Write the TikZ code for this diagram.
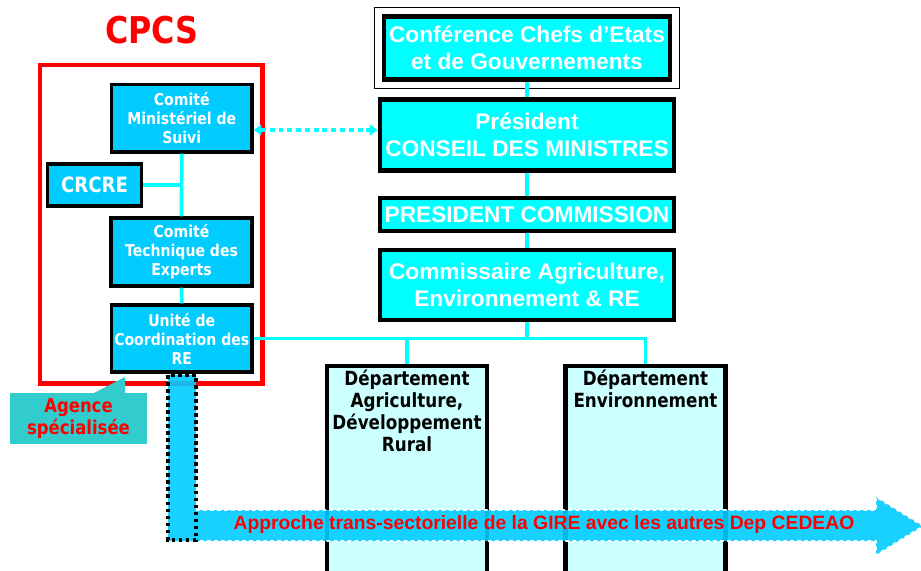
\documentclass[tikz,border=0pt]{standalone}
\usepackage{fontspec}
\setmainfont{Liberation Sans}
\newfontfamily\tahfont[FakeStretch=0.86]{DejaVu Sans}
\usetikzlibrary{positioning,arrows.meta,calc}
\definecolor{bleuciel}{HTML}{00CCFF}
\definecolor{cyanvif}{HTML}{00FFFF}
\definecolor{cyanpale}{HTML}{CCFFFF}
\definecolor{turquoise}{HTML}{33CCCC}
\tikzset{
  boiteg/.style={draw=black, line width=1.8pt, fill=bleuciel, text=white, align=center, inner sep=0pt,
    font=\tahfont\bfseries\fontsize{9.3}{10.8}\selectfont},
  boited/.style={draw=black, line width=2.3pt, fill=cyanvif, text=white, align=center, inner sep=0pt,
    minimum width=5.9cm, font=\bfseries\fontsize{12.9}{15.3}\selectfont},
  deptbox/.style={draw=black, line width=2.3pt, fill=cyanpale, minimum width=3.2cm, minimum height=5cm, anchor=north},
  depttext/.style={align=center, inner sep=0pt, font=\tahfont\bfseries\fontsize{11.1}{12.6}\selectfont},
  lien/.style={cyanvif, line width=2.1pt},
}
\begin{document}
\begin{tikzpicture}[x=0.02cm,y=-0.02cm]
\clip (0,0) rectangle (921,571);
\fill[white] (0,0) rectangle (921,571);

% CPCS
\node (cpcs) [text=red, font=\tahfont\bfseries\fontsize{21}{24}\selectfont] at (152,30) {CPCS};
\node (cadre) [draw=red, line width=2.6pt, minimum width=4.45cm, minimum height=6.37cm] at (151.25,224.25) {};

\node (cms) [boiteg, minimum width=2.81cm, minimum height=1.35cm] at (181.75,118.25) {Comité\\Ministériel de\\Suivi};
\node (crcre) [boiteg, minimum width=1.88cm, minimum height=0.84cm, font=\tahfont\bfseries\fontsize{12}{13}\selectfont] at (94.5,185) {CRCRE};
\node (cte) [boiteg, minimum width=2.82cm, minimum height=1.36cm] at (181.5,252) {Comité\\Technique des\\Experts};
\node (ucr) [boiteg, minimum width=2.81cm, minimum height=1.34cm] at (181.75,338.5) {Unité de\\Coordination des\\RE};

\draw[lien] (cms.south) -- (cte.north);
\draw[lien] (crcre.east) -- (crcre.east -| cms.south);
\draw[lien] (cte.south) -- (ucr.north);

% Colonne de droite
\node (conf) [boited, minimum width=5.72cm, minimum height=1.25cm, line width=2.6pt] at (527,48) {Conférence Chefs d’Etats\\et de Gouvernements};
\draw[line width=0.7pt] ($(conf.north west)+(-7,-7)$) rectangle ($(conf.south east)+(7,7)$);
\node (pcm) [boited, minimum height=1.42cm] at (527,135) {Président\\CONSEIL DES MINISTRES};
\node (pc) [boited, minimum height=0.66cm] at (527,214.5) {PRESIDENT COMMISSION};
\node (com) [boited, minimum height=1.41cm] at (527,285) {Commissaire Agriculture,\\Environnement \& RE};

\draw[lien] (conf.south) -- (pcm.north);
\draw[lien] (pcm.south) -- (pc.north);
\draw[lien] (pc.south) -- (com.north);

% Fleche pointillee
\coordinate (fl) at (0,130);
\draw[cyanvif, line width=2.3pt, dash pattern=on 2.8pt off 2.2pt,
  {Triangle[length=4.5pt,width=6pt]}-{Triangle[length=4.5pt,width=6pt]}] (cms.east |- fl) -- (pcm.west |- fl);

% Departements
\node (dag) [deptbox] at (407,364) {};
\node (den) [deptbox] at (645.5,364) {};
\node (dagt) [depttext, below=3pt of dag.north] {Département\\Agriculture,\\Développement\\Rural};
\node (dent) [depttext, below=3pt of den.north] {Département\\Environnement};

\draw[lien] (com.south) -- (com.south |- ucr.east);
\draw[lien] (ucr.east) -| (den.north);
\draw[lien] (dag.north) -- (dag.north |- ucr.east);

% Grande fleche
\fill[bleuciel, fill opacity=0.9] (168,375) -- (196,375) -- (196,510) -- (876,510) -- (876,497)
  -- (923,526) -- (876,555) -- (876,541) -- (168,541) -- cycle;
\draw[white, line width=0.9pt, dash pattern=on 2pt off 2pt] (196,510) -- (876,510) -- (876,497)
  -- (923,526) -- (876,555) -- (876,541) -- (196,541);
\draw[black, line width=2pt, dash pattern=on 2pt off 2pt] (168,375) rectangle (196,540);
\node (gire) [text=red, font=\bfseries\fontsize{11}{12}\selectfont] at (544,525)
  {Approche trans-sectorielle de la GIRE avec les autres Dep CEDEAO};

% Agence
\fill[turquoise] (92,394) -- (125,377) -- (125,394) -- cycle;
\node (agence) [fill=turquoise, minimum width=2.74cm, minimum height=1.02cm, align=center, inner sep=0pt,
  text=red, font=\tahfont\bfseries\fontsize{10.9}{12.5}\selectfont] at (78.5,418.5) {Agence\\spécialisée};
\end{tikzpicture}
\end{document}
